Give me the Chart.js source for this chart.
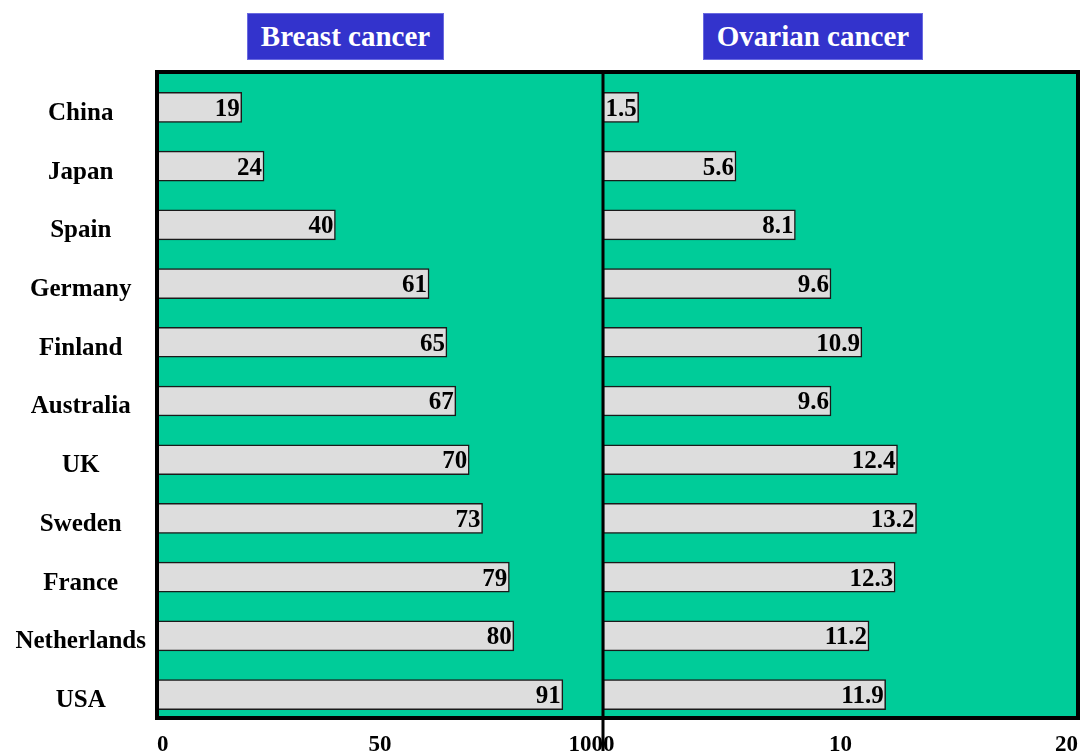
<!DOCTYPE html>
<html>
<head>
<meta charset="utf-8">
<script src="https://cdn.jsdelivr.net/npm/chart.js@4/dist/chart.umd.min.js"></script>
<style>
  html, body { margin: 0; padding: 0; background: #fff; }
  #wrap { position: relative; width: 1088px; height: 751px; }
  .title {
    position: absolute; top: 13px; height: 47px;
    background: #3333cc; border: 1px solid #6a6ae0; box-sizing: border-box;
    color: #fff; font: bold 29px "Liberation Serif", "Times New Roman", serif;
    line-height: 45px; text-align: center; white-space: nowrap;
  }
</style>
</head>
<body>
<div id="wrap">
  <canvas id="myChart" width="1088" height="751"></canvas>
  <div class="title" style="left:247px;width:197px;">Breast cancer</div>
  <div class="title" style="left:703px;width:220px;">Ovarian cancer</div>
</div>
<script>
const countries = ['China', 'Japan', 'Spain', 'Germany', 'Finland', 'Australia', 'UK', 'Sweden', 'France', 'Netherlands', 'USA'];
const breast = [19, 24, 40, 61, 65, 67, 70, 73, 79, 80, 91];
const ovarian = [1.5, 5.6, 8.1, 9.6, 10.9, 9.6, 12.4, 13.2, 12.3, 11.2, 11.9];
const breastTicks = [0, 50, 100];
const ovarianTicks = [0, 10, 20];

const serif = '"Liberation Serif", "Times New Roman", serif';
const frameShift = 6; // frame sits a bit above the bar area, as on the slide

// green panels + black frame
const panels = {
  id: 'panels',
  beforeDatasetsDraw(chart) {
    const {ctx, chartArea: a} = chart;
    ctx.save();
    ctx.fillStyle = '#00cc99';
    ctx.fillRect(a.left, a.top - frameShift, a.right - a.left, a.bottom - a.top);
    ctx.restore();
  },
  afterDatasetsDraw(chart) {
    const {ctx, chartArea: a} = chart;
    ctx.save();
    // value labels at the bar ends
    ctx.font = 'bold 25px ' + serif;
    ctx.fillStyle = '#000';
    ctx.textAlign = 'right';
    ctx.textBaseline = 'middle';
    chart.data.datasets.forEach((ds, i) => {
      chart.getDatasetMeta(i).data.forEach((bar, j) => {
        ctx.fillText(String(ds.data[j]), bar.x - 2, bar.y + 2);
      });
    });
    ctx.strokeStyle = '#000';
    ctx.lineWidth = 4;
    ctx.strokeRect(a.left, a.top - frameShift, a.right - a.left, a.bottom - a.top);
    const mid = chart.scales.x1.right;
    ctx.lineWidth = 3;
    ctx.beginPath();
    ctx.moveTo(mid, a.top - frameShift);
    ctx.lineTo(mid, chart.height);
    ctx.stroke();
    ctx.restore();
  }
};

function xAxis(max, ticks, weight) {
  return {
    type: 'linear',
    position: 'bottom',
    stack: 'panels',
    stackWeight: weight,
    min: 0,
    max: max,
    afterFit: (s) => { s.height = 27; },
    afterBuildTicks: (s) => { s.ticks = ticks.map(v => ({value: v})); },
    grid: { display: false, drawTicks: false },
    border: { display: false },
    ticks: {
      align: 'inner',
      padding: 7,
      maxRotation: 0,
      autoSkip: false,
      color: '#000',
      font: { family: serif, size: 23, weight: 'bold' }
    }
  };
}

const barStyle = {
  grouped: false,
  barThickness: 30,
  backgroundColor: '#dddddd',
  borderColor: '#1a1a1a',
  borderWidth: 1.5,
  borderSkipped: false
};

const config = {
  type: 'bar',
  data: {
    labels: countries,
    datasets: [{
      label: 'Breast cancer',
      data: breast,
      xAxisID: 'x1',
      yAxisID: 'y',
      ...barStyle
    }, {
      label: 'Ovarian cancer',
      data: ovarian,
      xAxisID: 'x2',
      yAxisID: 'y',
      ...barStyle
    }]
  },
  options: {
    indexAxis: 'y',
    responsive: false,
    animation: false,
    layout: { padding: { top: 78, right: 10, left: 0, bottom: 0 } },
    scales: {
      x1: xAxis(100, breastTicks, 446),
      x2: xAxis(20, ovarianTicks, 475),
      y: {
        type: 'category',
        afterFit: (s) => { s.width = 157; },
        grid: { display: false, drawTicks: false },
        border: { display: false },
        ticks: {
          crossAlign: 'center',
          padding: 11,
          labelOffset: 6,
          color: '#000',
          font: { family: serif, size: 25, weight: 'bold' }
        }
      }
    },
    plugins: {
      legend: { display: false },
      tooltip: { enabled: false },
      colors: { enabled: false }
    }
  },
  plugins: [panels]
};

const myChart = new Chart(document.getElementById('myChart'), config);
</script>
</body>
</html>
